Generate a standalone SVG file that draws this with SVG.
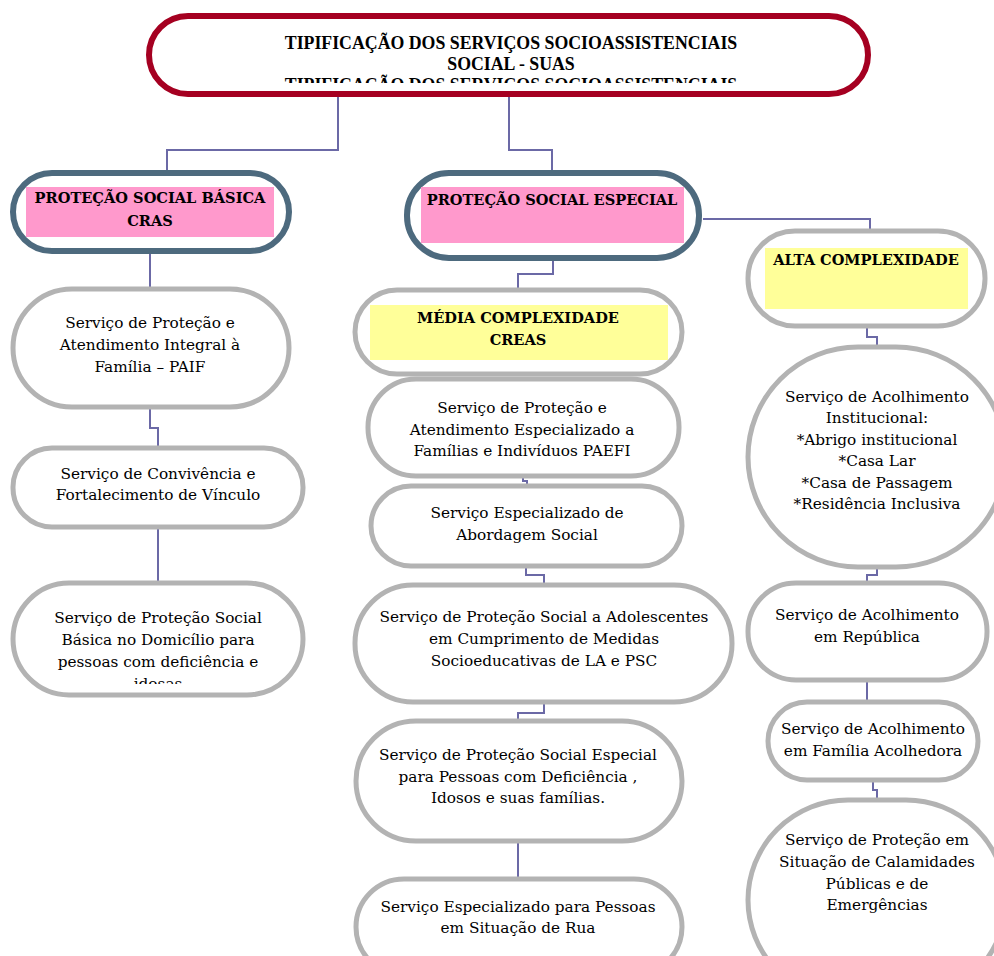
<svg xmlns="http://www.w3.org/2000/svg" width="994" height="956" viewBox="0 0 994 956">
<defs>
<style>
.pill{fill:#fff;stroke:#b3b3b3;stroke-width:5}
.blue{fill:#fff;stroke:#4d6a7e;stroke-width:6}
.red{fill:#fff;stroke:#a50021;stroke-width:6}
.pink{fill:#ff99cc}
.yellow{fill:#ffff99}
.t{font-family:"DejaVu Serif","Liberation Serif",serif;font-size:15.3px;fill:#000;text-anchor:middle}
.h{font-family:"DejaVu Serif","Liberation Serif",serif;font-size:14.6px;font-weight:bold;fill:#000;text-anchor:middle}
.ti{font-family:"Liberation Serif","Times New Roman",serif;font-size:17.8px;font-weight:bold;fill:#000;text-anchor:middle}
.c{fill:none;stroke:#6b69a6;stroke-width:2}
</style>
<clipPath id="clipTitle"><rect x="150" y="17" width="718" height="66"/></clipPath>
<clipPath id="clipDom"><rect x="0" y="583" width="320" height="101"/></clipPath>
</defs>
<rect width="994" height="956" fill="#fff"/>
<g id="connectors">
<path class="c" d="M338 96V150H167V172"/>
<path class="c" d="M509 96V150H552V172"/>
<path class="c" d="M150 252V289"/>
<path class="c" d="M150 407V428H158V448"/>
<path class="c" d="M158 527V583"/>
<path class="c" d="M553 258V274H518V290"/>
<path class="c" d="M703 219H870V230"/>
<path class="c" d="M523 476V481H527V486"/>
<path class="c" d="M526 566V575H544V585"/>
<path class="c" d="M544 702V713H518V721"/>
<path class="c" d="M518 841V879"/>
<path class="c" d="M867 327V337H877V347"/>
<path class="c" d="M877 567V575H867V583"/>
<path class="c" d="M867 680V702"/>
<path class="c" d="M873 780V790H877V800"/>
</g>
<g id="title">
<rect class="red" x="149" y="16" width="719" height="78" rx="39"/>
<g clip-path="url(#clipTitle)">
<text class="ti" x="511" y="49">TIPIFICAÇÃO DOS SERVIÇOS SOCIOASSISTENCIAIS</text>
<text class="ti" x="511" y="70">SOCIAL - SUAS</text>
<text class="ti" x="511" y="91">TIPIFICAÇÃO DOS SERVIÇOS SOCIOASSISTENCIAIS</text>
</g>
</g>
<g id="psb">
<rect class="blue" x="13" y="173" width="276" height="78" rx="39"/>
<rect class="pink" x="26" y="187" width="248" height="50"/>
<text class="h" x="150" y="203">PROTEÇÃO SOCIAL BÁSICA</text>
<text class="h" x="150" y="226">CRAS</text>
</g>
<g id="pse">
<rect class="blue" x="407" y="173" width="292" height="85" rx="42"/>
<rect class="pink" x="421" y="187" width="263" height="56"/>
<text class="h" x="552" y="205">PROTEÇÃO SOCIAL ESPECIAL</text>
</g>
<g id="alta">
<rect class="pill" x="748" y="231" width="237" height="95" rx="47"/>
<rect class="yellow" x="765" y="248" width="203" height="61"/>
<text class="h" x="866" y="265">ALTA COMPLEXIDADE</text>
</g>
<g id="media">
<rect class="pill" x="355" y="290" width="327" height="84" rx="42"/>
<rect class="yellow" x="370" y="305" width="298" height="55"/>
<text class="h" x="518" y="323">MÉDIA COMPLEXIDADE</text>
<text class="h" x="518" y="345">CREAS</text>
</g>
<g id="paif">
<rect class="pill" x="13" y="289" width="276" height="118" rx="59"/>
<text class="t" x="150" y="328">Serviço de Proteção e</text>
<text class="t" x="150" y="350">Atendimento Integral à</text>
<text class="t" x="150" y="372">Família – PAIF</text>
</g>
<g id="convivencia">
<rect class="pill" x="13" y="448" width="290" height="79" rx="39"/>
<text class="t" x="158" y="479">Serviço de Convivência e</text>
<text class="t" x="158" y="500">Fortalecimento de Vínculo</text>
</g>
<g id="domicilio">
<rect class="pill" x="13" y="583" width="290" height="112" rx="56"/>
<g clip-path="url(#clipDom)">
<text class="t" x="158" y="623">Serviço de Proteção Social</text>
<text class="t" x="158" y="645">Básica no Domicílio para</text>
<text class="t" x="158" y="667">pessoas com deficiência e</text>
<text class="t" x="158" y="689">idosas</text>
</g>
</g>
<g id="paefi">
<rect class="pill" x="368" y="379" width="311" height="97" rx="48"/>
<text class="t" x="522" y="413">Serviço de Proteção e</text>
<text class="t" x="522" y="435">Atendimento Especializado a</text>
<text class="t" x="522" y="456">Famílias e Indivíduos PAEFI</text>
</g>
<g id="abordagem">
<rect class="pill" x="371" y="486" width="311" height="80" rx="40"/>
<text class="t" x="527" y="518">Serviço Especializado de</text>
<text class="t" x="527" y="540">Abordagem Social</text>
</g>
<g id="adolescentes">
<rect class="pill" x="355" y="585" width="377" height="117" rx="58"/>
<text class="t" x="544" y="622">Serviço de Proteção Social a Adolescentes</text>
<text class="t" x="544" y="644">em Cumprimento de Medidas</text>
<text class="t" x="544" y="666">Socioeducativas de LA e PSC</text>
</g>
<g id="pcd">
<rect class="pill" x="356" y="721" width="326" height="120" rx="60"/>
<text class="t" x="518" y="760">Serviço de Proteção Social Especial</text>
<text class="t" x="518" y="782">para Pessoas com Deficiência ,</text>
<text class="t" x="518" y="803">Idosos e suas famílias.</text>
</g>
<g id="rua">
<rect class="pill" x="356" y="879" width="326" height="96" rx="48"/>
<text class="t" x="518" y="912">Serviço Especializado para Pessoas</text>
<text class="t" x="518" y="933">em Situação de Rua</text>
</g>
<g id="institucional">
<rect class="pill" x="748" y="347" width="258" height="220" rx="110"/>
<text class="t" x="877" y="402">Serviço de Acolhimento</text>
<text class="t" x="877" y="423">Institucional:</text>
<text class="t" x="877" y="445">*Abrigo institucional</text>
<text class="t" x="877" y="466">*Casa Lar</text>
<text class="t" x="877" y="488">*Casa de Passagem</text>
<text class="t" x="877" y="509">*Residência Inclusiva</text>
</g>
<g id="republica">
<rect class="pill" x="748" y="583" width="239" height="97" rx="48"/>
<text class="t" x="867" y="620">Serviço de Acolhimento</text>
<text class="t" x="867" y="642">em República</text>
</g>
<g id="familia">
<rect class="pill" x="768" y="702" width="210" height="78" rx="39"/>
<text class="t" x="873" y="734">Serviço de Acolhimento</text>
<text class="t" x="873" y="756">em Família Acolhedora</text>
</g>
<g id="calamidades">
<rect class="pill" x="748" y="800" width="258" height="200" rx="100"/>
<text class="t" x="877" y="845">Serviço de Proteção em</text>
<text class="t" x="877" y="867">Situação de Calamidades</text>
<text class="t" x="877" y="889">Públicas e de</text>
<text class="t" x="877" y="910">Emergências</text>
</g>
</svg>
